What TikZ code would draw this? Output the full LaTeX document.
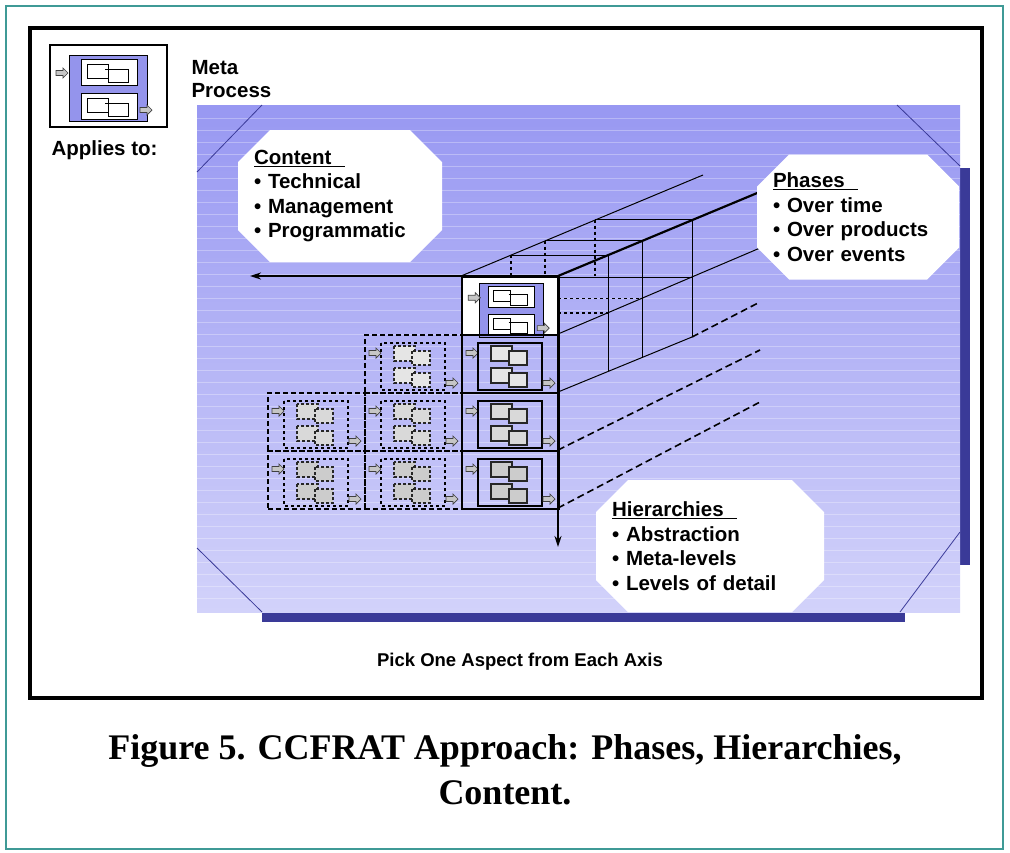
\documentclass[tikz,border=0pt]{standalone}
\usepackage{fontspec}
\setmainfont{Liberation Sans}
\newfontfamily\capfont{Liberation Serif}
\usetikzlibrary{shapes.misc,arrows.meta}

\definecolor{paneltop}{HTML}{9898F2}
\definecolor{panelbot}{HTML}{D2D2FA}
\definecolor{paneldark}{HTML}{3A3A98}
\definecolor{iconblue}{HTML}{9494EC}
\definecolor{teal}{HTML}{3F9A96}

\tikzset{
  garrow/.pic={\draw[fill=gray!45,draw=black!75,line width=.7pt]
    (0,-2.5)--(7,-2.5)--(7,-5)--(12,0)--(7,5)--(7,2.5)--(0,2.5)--cycle;},
  pbox/.style={draw=black!85, line width=1.2pt},
  boxes/.style={fill=gray!12},
  pframe/.style={draw, line width=1.2pt},
  proc/.pic={
    \pic at (5,19) {garrow};
    \draw[pframe] (17,9) rectangle (81,56);
    \foreach \yy in {0,22}{
      \draw[pbox,boxes] (30,12+\yy) rectangle (51,27+\yy);
      \draw[pbox,boxes] (48,17+\yy) rectangle (66,31+\yy);}
    \pic at (82,49) {garrow};
  },
  metaicon/.pic={
    \draw[fill=iconblue, line width=.8pt] (0,0) rectangle (78,66);
    \foreach \yy in {0,34}{
      \draw[fill=white, line width=1pt] (12,4+\yy) rectangle (68,30+\yy);
      \draw[fill=white, line width=1pt] (18,9+\yy) rectangle (39,23+\yy);
      \draw[line width=1pt] (36,14+\yy) -- (59,14+\yy) -- (59,27+\yy) -- (39,27+\yy) -- (39,23+\yy);}
    \pic at (-13,18) {garrow};
    \pic at (71,55) {garrow};
  },
  cell/.style={draw, line width=1.5pt, minimum width=97pt, minimum height=58pt,
    inner sep=0pt, anchor=north west},
  ghost/.style={draw, dash pattern=on 5pt off 3pt, line width=1.8pt, minimum width=97pt,
    minimum height=58pt, inner sep=0pt, anchor=north west},
  infobox/.style={chamfered rectangle, chamfered rectangle xsep=16pt,
    chamfered rectangle ysep=16pt, fill=white, inner sep=0pt, align=left,
    font=\bfseries\fontsize{20.5}{24.5}\selectfont},
  axis/.style={line width=2.2pt},
}

\begin{document}
\begin{tikzpicture}[x=1pt,y=-1pt]
  \useasboundingbox (0,0) rectangle (1010,852);
  % frames
  \draw[teal, line width=1.2pt] (6,6) rectangle (1003,849);
  \draw[line width=4pt] (30,28) rectangle (982,698);

  % blue panel
  \fill[paneldark] (960,168) rectangle (970,565);
  \fill[paneldark] (262,612) rectangle (905,622);
  \shade[top color=paneltop, bottom color=panelbot] (197,105) rectangle (960,612);
  \foreach \yy in {118,130,...,606}
    \draw[white, opacity=.3, line width=.6pt] (197,\yy) -- (960,\yy);
  \draw[paneldark, line width=.8pt] (197,172) -- (262,105);
  \draw[paneldark, line width=.8pt] (897,105) -- (960,166);
  \draw[paneldark, line width=.8pt] (960,532) -- (900,612);
  \draw[paneldark, line width=.8pt] (197,548) -- (262,612);

  % meta process icon
  \draw[line width=2pt] (50,45) rectangle (167,127);
  \pic at (69,55) {metaicon};
  \node[font=\bfseries\fontsize{20.5}{23}\selectfont, align=left, anchor=north west]
    (meta) at (188,57) {Meta\\Process};
  \node[font=\bfseries\fontsize{20.5}{23}\selectfont, anchor=west]
    (applies) at (48,150) {Applies to:};

  % cube: back slices
  \foreach \d/\st in {50/dashed,84/dashed,134/solid}{
    \draw[line width=1pt] (461+\d,276-.42*\d) -- (558+\d,276-.42*\d);
    \draw[line width=1pt] (558+\d,276-.42*\d) -- (558+\d,392-.42*\d);
    \draw[line width=1.4pt, dashed] (461+\d,276-.42*\d) -- (461+\d,276);
    \draw[line width=1.4pt, \st] (558,334-.42*\d) -- (558+\d,334-.42*\d);
  }
  \coordinate (tl) at (461,276);
  \coordinate (far tl) at (703,175);
  \draw[line width=1pt] (tl) -- (far tl);
  \coordinate (r1) at (558,334);
  \coordinate (r2) at (558,392);
  \coordinate (r3) at (558,450);
  \coordinate (r4) at (558,508);
  \coordinate (e1) at (760,248);
  \coordinate (m2) at (692,337);
  \coordinate (e2) at (760,302);
  \coordinate (e3) at (760,350);
  \coordinate (e4) at (760,402);
  \draw[line width=1pt] (r1) -- (e1);
  \draw[line width=1pt] (r2) -- (m2);
  \draw[line width=1.6pt, dash pattern=on 7pt off 4pt] (m2) -- (e2);
  \draw[line width=1.6pt, dash pattern=on 7pt off 4pt] (r3) -- (e3);
  \draw[line width=1.6pt, dash pattern=on 7pt off 4pt] (r4) -- (e4);

  % cells
  \node[cell, fill=white] (c01) at (461,276) {};
  \pic[scale=.82] at (479,283) {metaicon};
  \foreach \r/\yy in {2/334,3/392,4/450}{
    \node[cell] (c\r1) at (461,\yy) {};
    \pic[boxes/.style={fill=gray!\r0}] at (c\r1.north west) {proc};
  }
  \foreach \r/\yy/\cols in {2/334/{364},3/392/{267,364},4/450/{267,364}}{
    \foreach \xx in \cols{
      \node[ghost] (g\r\xx) at (\xx,\yy) {};
      \pic[pframe/.style={draw, dashed, line width=1.5pt},
           pbox/.style={draw=black!85, densely dashed, line width=1.2pt},
           boxes/.style={fill=gray!\r0}] at (g\r\xx.north west) {proc};
    }
  }

  % axes
  \coordinate (origin) at (558,276);
  \coordinate (content end) at (250,276);
  \coordinate (hier end) at (558,547);
  \coordinate (phase end) at (762,191);
  \draw[axis, -{Stealth[length=11pt,width=7pt]}] (origin) -- (content end);
  \draw[axis, -{Stealth[length=11pt,width=7pt]}] (origin) -- (hier end);
  \draw[axis] (origin) -- (phase end);

  % labels
  \node[infobox, minimum width=200pt, minimum height=132pt, text width=172pt]
    (content) at (340,196)
    {\underline{Content\ \ }\\\textbullet\ Technical\\\textbullet\ Management\\\textbullet\ Programmatic};
  \node[infobox, minimum width=195pt, minimum height=125pt, text width=170pt]
    (phases) at (858,217)
    {\underline{Phases\ \ }\\\textbullet\ Over time\\\textbullet\ Over products\\\textbullet\ Over events};
  \node[infobox, minimum width=225pt, minimum height=132pt, text width=196pt]
    (hier) at (710,546)
    {\underline{Hierarchies\ \ }\\\textbullet\ Abstraction\\\textbullet\ Meta-levels\\\textbullet\ Levels of detail};

  \node[font=\bfseries\fontsize{18.5}{23}\selectfont] (pick) at (520,662)
    {Pick One Aspect from Each Axis};
  \node[font=\capfont\bfseries\fontsize{36}{45}\selectfont, align=center] (caption) at (505,770)
    {Figure 5. CCFRAT Approach: Phases, Hierarchies,\\Content.};
\end{tikzpicture}
\end{document}
